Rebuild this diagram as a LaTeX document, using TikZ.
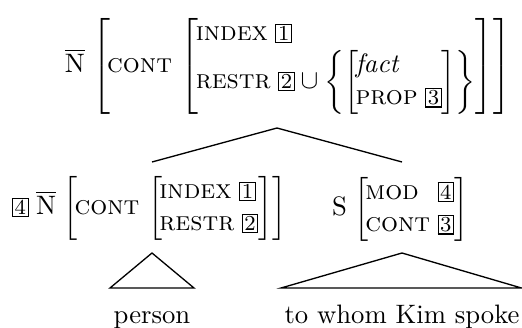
\documentclass[tikz,border=0pt]{standalone}
\usepackage{amsmath}
\newcommand\tagbox[1]{{\setlength{\fboxsep}{0.6pt}\setlength{\fboxrule}{0.4pt}\fbox{\footnotesize #1}}}
\newcommand\feat[1]{\text{\textsc{#1}}}
\newcommand\lb{\left[\mkern-2mu}
\begin{document}
\begin{tikzpicture}[x=0.375pt,y=-0.375pt,
  avm/.style={inner sep=0pt,outer sep=0pt,anchor=west,
    execute at begin node={\delimiterfactor=850 \delimitershortfall=6pt}},
  word/.style={inner sep=0pt,anchor=base},
  branch/.style={draw=black,line width=0.5pt}]
\useasboundingbox (0,0) rectangle (522,328);
% top AVM
\node[avm] (top) at (65,66) {$\overline{\mathrm{N}}\mkern2mu\lb\feat{cont}\,\lb\begin{array}{@{}l@{}}\feat{index}\;\tagbox{1}\\\feat{restr}\;\tagbox{2}\cup\left\{\lb\begin{array}{@{}l@{}}\textit{fact}\\\feat{prop}\;\tagbox{3}\end{array}\right]\right\}\end{array}\right]\right]$};
% bottom left AVM
\node[avm] (nl) at (12,208) {$\tagbox{4}\;\overline{\mathrm{N}}\mkern2mu\lb\feat{cont}\,\lb\begin{array}{@{}l@{}}\feat{index}\;\tagbox{1}\\\feat{restr}\;\tagbox{2}\end{array}\right]\right]$};
% bottom right AVM
\node[avm] (sr) at (332,209) {$\mathrm{S}\mkern2mu\lb\begin{array}{@{}l@{\;}l@{}}\feat{mod}&\tagbox{4}\\\feat{cont}&\tagbox{3}\end{array}\right]$};
% words
\node[word] (person) at (152,323) {person};
\node[word] (spoke) at (402,323) {to whom Kim spoke};
% branch points
\coordinate (apex) at (277,128);
\coordinate (lend) at (152,162);
\coordinate (rend) at (402,162);
\draw[branch] (lend) -- (apex) -- (rend);
% triangles
\coordinate (tl) at (152,253);
\coordinate (tlA) at (110,288);
\coordinate (tlB) at (194,288);
\draw[branch] (tlA) -- (tl) -- (tlB) -- cycle;
\coordinate (tr) at (402,253);
\coordinate (trA) at (281,288);
\coordinate (trB) at (521.5,288);
\draw[branch] (trA) -- (tr) -- (trB) -- cycle;
\end{tikzpicture}
\end{document}
